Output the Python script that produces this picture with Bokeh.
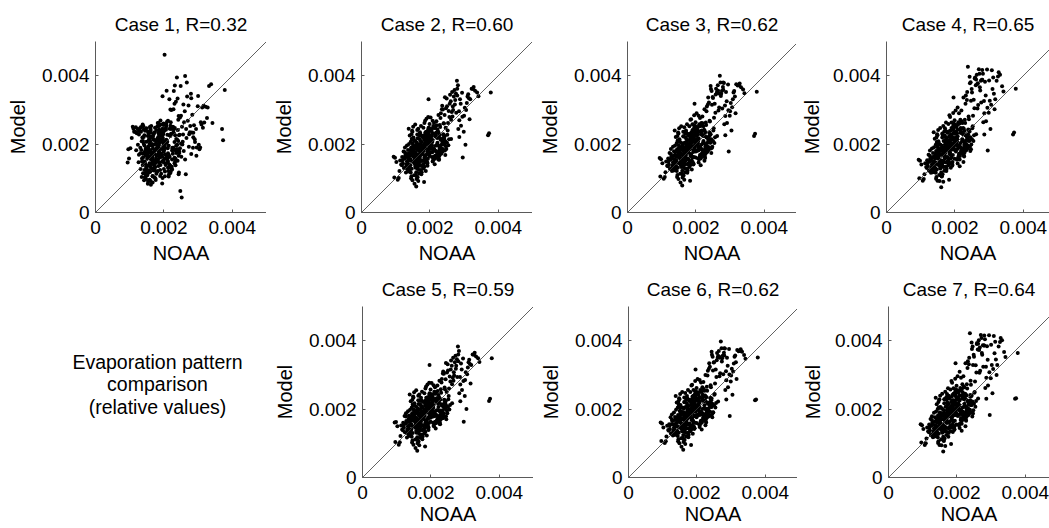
from bokeh.plotting import figure
from bokeh.models import Range1d, FixedTicker, Slope, Label
from bokeh.layouts import column, row
from bokeh.embed import file_html
from bokeh.resources import INLINE

# ---------------- data (values in units of 1e-5) ----------------
UNIT = 1e-5

noaa = [
    152, 168, 141, 175, 189, 133, 160, 147, 171, 158,
    163, 138, 182, 155, 129, 176, 144, 167, 193, 150,
    172, 157, 136, 185, 162, 148, 170, 121, 178, 154,
    166, 143, 198, 159, 174, 131, 187, 151, 164, 139,
    180, 156, 146, 169, 116, 191, 153, 162, 135, 177,
    149, 173, 160, 127, 184, 145, 168, 203, 158, 140,
    165, 134, 179, 152, 196, 161, 142, 171, 111, 188,
    157, 170, 148, 183, 137, 163, 206, 154, 175, 145,
    126, 167, 159, 190, 150, 174, 139, 181, 164, 213,
    155, 143, 176, 161, 199, 132, 169, 152, 186, 147,
    172, 119, 158, 194, 166, 141, 179, 208, 153, 162,
    136, 185, 149, 171, 160, 124, 177, 144, 195, 168,
    156, 182, 138, 164, 219, 151, 173, 130, 189, 158,
    146, 167, 201, 153, 175, 106, 163, 187, 142, 170,
    159, 224, 135, 178, 150, 166, 197, 128, 181, 155,
    143, 172, 161, 211, 148, 184, 98, 165, 139, 176,
    231, 154, 168, 192, 133, 160, 215, 145, 179, 118,
    163, 205, 150, 237, 171, 141, 188, 228, 157, 102,
    174, 218, 127, 243, 162, 199, 113, 181, 234, 147,
    94, 221, 166, 248, 138, 203, 252, 123, 186, 227,
    239, 109, 193, 256, 156, 214, 131, 245, 176, 207,
    233, 161, 96, 241, 183, 120, 226, 149, 254, 195,
    212, 225, 238, 246, 222, 258, 231, 264, 217, 249,
    236, 262, 270, 229, 255, 243, 276, 219, 267, 251,
    282, 240, 273, 259, 288, 232, 266, 294, 247, 279,
    261, 285, 300, 253, 272, 308, 244, 291, 268, 312,
    277, 296, 318, 257, 283, 304, 326, 274, 299, 265,
    290, 316, 280, 332, 302, 286, 322, 310, 338, 295,
    228, 242, 196, 208, 184, 235, 202, 250, 190, 216,
    342, 370, 373, 378, 314, 328, 306, 280, 286, 262,
    198, 186, 211, 203, 229, 192, 218, 207, 236, 189,
    221, 195, 244, 208, 183, 226, 200, 239, 214, 191,
    187, 232, 205, 216, 196, 247, 209, 224, 185, 201,
    213, 199, 228, 190, 219, 206, 242, 193, 231, 210,
    204, 223, 188, 238, 197, 215, 202, 227, 194, 250,
    182, 209, 233, 200, 220, 187, 245, 212, 198, 225,
    216, 191, 205, 236, 184, 222, 199, 230, 210, 240,
    195, 218, 201, 226, 208, 189, 234, 197, 214, 203,
    228, 186, 212, 194, 243, 206, 220, 183, 237, 199,
    207, 231, 192, 217, 185, 239, 203, 224, 196, 212,
]

model_case1 = [
    178, 152, 201, 133, 164, 236, 119, 187, 212, 144,
    196, 172, 121, 162, 240, 185, 149, 107, 227, 170,
    140, 215, 158, 197, 131, 98, 176, 232, 113, 189,
    165, 124, 205, 183, 248, 189, 146, 137, 220, 209,
    191, 117, 166, 141, 236, 172, 224, 156, 104, 203,
    207, 125, 181, 169, 233, 143, 198, 158, 96, 252,
    128, 183, 167, 110, 213, 240, 175, 150, 245, 186,
    163, 229, 134, 154, 219, 172, 247, 193, 100, 180,
    147, 106, 250, 139, 126, 182, 161, 216, 143, 195,
    231, 196, 154, 92, 178, 127, 214, 168, 243, 115,
    199, 182, 138, 230, 159, 221, 118, 166, 84, 234,
    150, 173, 246, 129, 208, 198, 160, 103, 149, 187,
    122, 262, 139, 176, 224, 157, 235, 246, 107, 201,
    174, 88, 190, 237, 145, 218, 164, 226, 94, 123,
    135, 181, 208, 241, 108, 152, 228, 238, 199, 174,
    226, 102, 244, 152, 185, 136, 158, 200, 115, 211,
    206, 91, 222, 113, 250, 141, 167, 239, 148, 249,
    253, 209, 118, 185, 131, 243, 161, 232, 179, 188,
    171, 137, 228, 112, 81, 194, 236, 252, 157, 111,
    146, 244, 196, 63, 257, 120, 44, 244, 166, 188,
    213, 251, 237, 228, 212, 105, 173, 178, 95, 253,
    149, 223, 185, 241, 209, 233, 172, 130, 199, 85,
    268, 189, 395, 227, 300, 180, 318, 112, 245, 370,
    174, 399, 268, 355, 207, 282, 235, 301, 380, 163,
    234, 333, 192, 264, 255, 371, 218, 244, 278, 347,
    296, 189, 341, 251, 313, 264, 226, 206, 339, 307,
    253, 190, 263, 316, 286, 185, 276, 229, 311, 244,
    214, 312, 171, 370, 198, 233, 309, 257, 375, 166,
    302, 271, 340, 356, 262, 324, 461, 283, 269, 331,
    262, 244, 211, 358, 248, 307, 190, 334, 220, 155,
    152, 221, 188, 106, 243, 170, 137, 259, 196, 124,
    230, 163, 117, 205, 182, 251, 146, 198, 132, 214,
    176, 247, 139, 226, 101, 188, 265, 155, 212, 239,
    121, 197, 235, 168, 254, 143, 209, 186, 160, 227,
    244, 134, 203, 179, 218, 112, 191, 249, 164, 201,
    195, 158, 226, 127, 264, 211, 174, 148, 233, 187,
    140, 238, 169, 215, 192, 129, 256, 183, 207, 151,
    225, 115, 183, 249, 157, 206, 138, 229, 195, 170,
    189, 253, 131, 208, 166, 242, 119, 220, 178, 260,
    213, 144, 257, 162, 231, 185, 200, 126, 245, 173,
]

model_case2 = [
    163, 181, 139, 172, 205, 150, 171, 128, 190, 154,
    142, 160, 196, 175, 131, 188, 117, 199, 178, 166,
    210, 136, 151, 167, 186, 174, 157, 144, 221, 109,
    170, 182, 191, 147, 124, 162, 215, 195, 103, 133,
    183, 158, 106, 226, 140, 202, 177, 135, 170, 152,
    149, 196, 118, 176, 161, 189, 140, 226, 208, 125,
    159, 144, 170, 192, 184, 98, 166, 235, 121, 147,
    177, 154, 213, 199, 120, 228, 196, 145, 112, 171,
    158, 138, 162, 236, 175, 180, 200, 129, 217, 184,
    84, 156, 206, 188, 173, 137, 114, 219, 164, 186,
    175, 162, 190, 157, 245, 121, 138, 212, 166, 204,
    183, 226, 94, 148, 198, 130, 173, 207, 231, 189,
    143, 180, 171, 128, 221, 251, 201, 117, 156, 131,
    229, 167, 243, 185, 136, 96, 241, 188, 151, 215,
    110, 197, 126, 151, 180, 92, 206, 167, 248, 194,
    138, 228, 153, 181, 239, 134, 160, 183, 173, 118,
    213, 211, 124, 172, 196, 76, 228, 100, 193, 138,
    148, 238, 201, 205, 164, 225, 121, 183, 257, 148,
    253, 167, 190, 223, 106, 259, 152, 142, 198, 216,
    163, 218, 135, 186, 245, 195, 240, 178, 268, 154,
    229, 101, 137, 214, 155, 247, 140, 168, 225, 176,
    188, 195, 102, 260, 89, 153, 232, 236, 197, 279,
    262, 285, 301, 248, 243, 318, 276, 294, 230, 333,
    312, 271, 339, 256, 297, 285, 348, 267, 310, 227,
    372, 261, 316, 344, 331, 290, 281, 350, 305, 385,
    325, 296, 283, 262, 358, 320, 337, 254, 300, 346,
    292, 161, 331, 279, 244, 198, 361, 329, 236, 352,
    318, 273, 342, 356, 306, 221, 362, 339, 351, 280,
    226, 215, 331, 268, 262, 302, 278, 311, 274, 248,
    340, 226, 232, 351, 334, 367, 300, 362, 270, 215,
    176, 205, 158, 221, 194, 143, 233, 187, 210, 168,
    199, 226, 181, 149, 213, 171, 240, 202, 161, 218,
    231, 184, 207, 166, 248, 193, 152, 219, 196, 175,
    160, 238, 189, 211, 177, 224, 198, 145, 216, 253,
    212, 169, 229, 186, 201, 157, 244, 178, 222, 204,
    190, 247, 172, 215, 163, 235, 208, 182, 239, 155,
    223, 150, 196, 179, 217, 204, 165, 250, 188, 227,
    243, 180, 214, 159, 232, 198, 175, 225, 141, 209,
    167, 219, 185, 236, 200, 162, 255, 192, 178, 246,
    206, 173, 228, 195, 153, 218, 186, 237, 210, 164,
]

model_case3 = [
    160, 186, 136, 178, 210, 146, 168, 131, 194, 151,
    146, 155, 201, 170, 128, 192, 121, 204, 183, 161,
    215, 133, 148, 171, 182, 170, 162, 140, 226, 113,
    174, 178, 196, 144, 129, 158, 220, 191, 108, 130,
    188, 154, 110, 231, 137, 207, 172, 139, 166, 157,
    145, 201, 122, 171, 166, 185, 144, 231, 203, 128,
    163, 141, 175, 188, 190, 102, 162, 240, 118, 152,
    173, 158, 208, 204, 124, 223, 201, 141, 116, 167,
    154, 142, 158, 241, 171, 185, 196, 133, 222, 190,
    88, 152, 211, 184, 178, 134, 118, 214, 169, 182,
    179, 158, 186, 162, 249, 125, 143, 217, 162, 199,
    179, 231, 98, 153, 193, 127, 178, 203, 236, 185,
    147, 185, 167, 132, 227, 246, 206, 121, 161, 135,
    224, 171, 248, 181, 141, 99, 236, 193, 147, 220,
    114, 203, 123, 156, 176, 96, 211, 163, 252, 190,
    134, 233, 149, 187, 234, 139, 156, 187, 169, 123,
    219, 206, 128, 177, 192, 79, 234, 104, 198, 135,
    152, 243, 197, 211, 168, 221, 126, 189, 252, 144,
    258, 173, 186, 229, 110, 264, 149, 147, 204, 211,
    159, 224, 139, 192, 240, 200, 246, 174, 273, 159,
    235, 104, 142, 220, 151, 253, 137, 174, 230, 181,
    194, 191, 105, 266, 93, 149, 238, 231, 203, 284,
    276, 302, 322, 355, 252, 345, 296, 372, 240, 338,
    336, 353, 400, 263, 318, 370, 355, 281, 348, 240,
    379, 268, 341, 362, 352, 310, 298, 374, 315, 367,
    349, 313, 296, 277, 380, 331, 361, 262, 307, 355,
    304, 178, 375, 292, 258, 240, 372, 347, 283, 356,
    325, 290, 359, 366, 320, 226, 371, 351, 360, 299,
    233, 228, 318, 283, 271, 316, 290, 335, 258, 262,
    349, 224, 230, 353, 339, 377, 308, 380, 282, 224,
    180, 201, 162, 226, 199, 140, 238, 191, 215, 164,
    204, 222, 187, 146, 218, 175, 246, 206, 158, 223,
    235, 190, 203, 170, 254, 189, 156, 224, 192, 179,
    164, 234, 194, 207, 182, 228, 204, 142, 221, 258,
    216, 174, 225, 191, 197, 161, 250, 183, 218, 209,
    186, 252, 177, 211, 168, 231, 214, 186, 244, 151,
    228, 147, 200, 184, 213, 209, 161, 256, 192, 233,
    248, 185, 210, 163, 237, 194, 180, 230, 138, 213,
    171, 215, 189, 241, 205, 158, 261, 188, 183, 252,
    210, 177, 224, 199, 149, 223, 182, 242, 206, 168,
]

model_case4 = [
    158, 190, 132, 183, 218, 141, 170, 126, 199, 149,
    151, 150, 206, 168, 124, 197, 116, 209, 190, 158,
    221, 129, 143, 176, 187, 165, 166, 136, 233, 110,
    178, 172, 203, 141, 134, 152, 226, 187, 112, 125,
    194, 151, 104, 237, 133, 214, 169, 144, 161, 162,
    141, 206, 117, 166, 171, 180, 149, 237, 198, 121,
    167, 136, 181, 183, 197, 106, 158, 246, 112, 158,
    169, 162, 203, 211, 119, 219, 208, 137, 121, 162,
    149, 147, 153, 247, 166, 190, 191, 138, 227, 197,
    92, 147, 217, 181, 184, 128, 122, 208, 175, 177,
    184, 153, 181, 168, 253, 119, 149, 223, 158, 195,
    174, 238, 93, 158, 188, 122, 184, 198, 243, 180,
    142, 190, 162, 137, 234, 241, 212, 116, 167, 130,
    219, 176, 255, 176, 146, 93, 231, 199, 142, 225,
    109, 210, 118, 161, 171, 90, 218, 158, 259, 185,
    129, 239, 144, 194, 229, 145, 151, 181, 164, 128,
    226, 201, 133, 184, 187, 74, 242, 99, 204, 130,
    147, 250, 192, 219, 173, 216, 131, 196, 247, 140,
    263, 180, 181, 237, 105, 270, 144, 153, 212, 206,
    154, 231, 134, 199, 235, 207, 252, 169, 279, 164,
    243, 98, 148, 226, 146, 260, 132, 180, 237, 186,
    200, 186, 100, 273, 96, 144, 245, 226, 209, 291,
    290, 336, 426, 381, 262, 392, 318, 403, 247, 361,
    352, 389, 419, 271, 330, 397, 385, 298, 378, 246,
    406, 281, 366, 395, 382, 342, 304, 418, 327, 388,
    372, 326, 386, 283, 406, 416, 378, 267, 314, 395,
    322, 181, 331, 305, 264, 244, 398, 357, 292, 375,
    342, 302, 388, 403, 327, 228, 385, 361, 369, 306,
    238, 241, 336, 307, 284, 329, 298, 351, 263, 271,
    354, 228, 234, 362, 347, 410, 315, 417, 290, 229,
    184, 198, 166, 231, 204, 137, 243, 195, 220, 161,
    209, 218, 192, 143, 223, 179, 252, 210, 155, 228,
    239, 195, 199, 174, 260, 185, 160, 229, 188, 183,
    168, 230, 199, 203, 187, 232, 210, 139, 226, 264,
    220, 178, 221, 196, 193, 165, 256, 187, 214, 214,
    182, 257, 182, 207, 173, 227, 220, 190, 249, 148,
    233, 144, 204, 189, 209, 214, 157, 262, 196, 239,
    253, 190, 206, 167, 242, 190, 185, 235, 135, 217,
    175, 211, 193, 246, 210, 154, 267, 184, 188, 258,
    214, 181, 220, 203, 145, 228, 178, 247, 202, 172,
]

model_case5 = [
    165, 179, 139, 174, 203, 150, 171, 130, 190, 152,
    142, 162, 196, 173, 131, 188, 119, 199, 176, 166,
    208, 136, 153, 167, 186, 172, 157, 146, 221, 111,
    170, 180, 191, 149, 126, 162, 213, 195, 105, 133,
    185, 158, 108, 224, 140, 202, 175, 135, 172, 152,
    149, 194, 118, 178, 161, 187, 140, 228, 206, 125,
    161, 144, 170, 190, 184, 100, 166, 233, 121, 149,
    175, 154, 211, 199, 122, 226, 196, 147, 112, 169,
    158, 140, 162, 234, 177, 180, 198, 129, 215, 184,
    86, 156, 204, 188, 175, 137, 116, 217, 164, 188,
    177, 160, 190, 159, 243, 121, 140, 212, 168, 202,
    181, 226, 96, 148, 196, 132, 173, 205, 231, 187,
    145, 180, 169, 130, 221, 249, 203, 117, 158, 131,
    227, 169, 241, 185, 138, 96, 239, 190, 151, 213,
    112, 195, 126, 153, 178, 94, 206, 165, 246, 194,
    140, 226, 155, 181, 237, 134, 162, 181, 173, 120,
    211, 209, 126, 172, 194, 78, 226, 102, 191, 138,
    150, 236, 199, 207, 164, 223, 123, 183, 255, 150,
    251, 169, 188, 223, 108, 257, 152, 144, 196, 214,
    161, 216, 137, 188, 243, 195, 238, 180, 266, 156,
    227, 103, 139, 212, 157, 245, 140, 170, 223, 178,
    190, 193, 104, 258, 91, 153, 230, 234, 199, 277,
    264, 283, 303, 250, 241, 316, 278, 292, 232, 331,
    310, 273, 337, 258, 295, 287, 346, 269, 308, 229,
    370, 263, 318, 342, 333, 288, 283, 348, 307, 383,
    327, 294, 285, 260, 356, 322, 335, 256, 298, 344,
    294, 163, 329, 281, 246, 200, 359, 327, 238, 350,
    316, 275, 340, 354, 308, 223, 360, 337, 349, 282,
    228, 217, 329, 270, 260, 304, 276, 313, 272, 250,
    338, 224, 230, 349, 332, 365, 302, 360, 272, 217,
    178, 203, 160, 219, 196, 143, 231, 189, 208, 170,
    197, 228, 179, 151, 211, 173, 238, 204, 159, 216,
    233, 182, 209, 164, 246, 195, 150, 221, 194, 177,
    162, 236, 191, 209, 179, 222, 200, 147, 214, 251,
    210, 171, 227, 188, 199, 159, 242, 180, 220, 206,
    192, 245, 174, 213, 165, 233, 210, 180, 237, 157,
    221, 152, 194, 181, 215, 206, 163, 248, 190, 225,
    241, 182, 212, 161, 230, 200, 173, 227, 143, 207,
    169, 217, 187, 234, 202, 160, 253, 194, 176, 244,
    204, 175, 226, 197, 155, 216, 188, 235, 212, 162,
]

model_case6 = [
    162, 184, 136, 180, 208, 146, 170, 131, 192, 153,
    144, 157, 199, 170, 130, 190, 121, 206, 181, 163,
    213, 135, 148, 173, 180, 172, 160, 142, 224, 115,
    176, 176, 198, 144, 131, 156, 218, 193, 110, 128,
    186, 156, 112, 229, 139, 205, 174, 137, 168, 155,
    147, 199, 124, 169, 168, 183, 146, 229, 205, 130,
    165, 139, 177, 186, 192, 104, 160, 238, 120, 150,
    171, 160, 206, 202, 126, 221, 203, 143, 118, 165,
    156, 144, 156, 239, 173, 183, 198, 135, 220, 192,
    90, 150, 209, 186, 176, 136, 120, 212, 171, 180,
    181, 156, 188, 160, 247, 127, 141, 219, 160, 201,
    177, 229, 100, 155, 191, 129, 176, 205, 234, 187,
    149, 183, 169, 134, 225, 244, 208, 123, 159, 137,
    222, 173, 246, 183, 143, 101, 234, 191, 149, 218,
    116, 201, 125, 158, 174, 98, 209, 165, 250, 192,
    136, 231, 151, 185, 232, 141, 158, 185, 171, 125,
    217, 204, 130, 179, 190, 81, 232, 106, 196, 137,
    154, 241, 195, 213, 170, 219, 128, 187, 250, 146,
    256, 175, 184, 231, 112, 262, 151, 149, 202, 213,
    161, 222, 141, 190, 238, 202, 244, 176, 271, 161,
    233, 106, 144, 218, 153, 251, 139, 176, 228, 183,
    196, 189, 107, 264, 95, 151, 236, 229, 205, 282,
    278, 300, 324, 353, 254, 343, 298, 370, 242, 336,
    334, 355, 398, 265, 316, 368, 357, 279, 350, 242,
    377, 270, 339, 364, 350, 312, 296, 376, 313, 365,
    351, 311, 298, 275, 378, 333, 359, 264, 305, 357,
    302, 180, 373, 294, 256, 242, 370, 349, 281, 354,
    327, 288, 357, 368, 318, 228, 369, 353, 358, 301,
    235, 226, 316, 285, 269, 318, 288, 337, 256, 264,
    347, 226, 228, 351, 337, 375, 310, 378, 284, 222,
    182, 199, 164, 224, 201, 142, 236, 193, 213, 166,
    202, 224, 185, 148, 216, 177, 244, 208, 160, 221,
    237, 188, 205, 168, 252, 191, 154, 226, 190, 181,
    166, 232, 196, 205, 184, 226, 206, 144, 219, 256,
    214, 176, 223, 193, 195, 163, 248, 185, 216, 211,
    188, 250, 179, 209, 170, 229, 216, 184, 242, 153,
    226, 149, 202, 182, 211, 211, 159, 254, 194, 231,
    246, 187, 208, 165, 235, 196, 178, 232, 140, 211,
    173, 213, 191, 239, 207, 156, 259, 190, 181, 250,
    208, 179, 222, 201, 151, 221, 184, 240, 208, 166,
]

model_case7 = [
    160, 188, 134, 183, 216, 143, 170, 128, 197, 151,
    149, 152, 204, 170, 126, 195, 118, 207, 192, 156,
    219, 131, 145, 174, 189, 163, 168, 138, 231, 112,
    176, 174, 201, 143, 132, 154, 224, 189, 114, 127,
    192, 153, 106, 235, 135, 212, 171, 142, 163, 160,
    143, 204, 119, 168, 169, 182, 147, 235, 200, 123,
    165, 138, 179, 185, 195, 108, 160, 244, 114, 156,
    171, 160, 205, 209, 121, 217, 210, 139, 119, 164,
    151, 145, 155, 245, 168, 188, 193, 136, 229, 195,
    94, 149, 215, 183, 182, 130, 124, 206, 177, 175,
    182, 155, 183, 166, 251, 121, 147, 225, 156, 197,
    176, 236, 95, 160, 186, 124, 182, 200, 241, 182,
    144, 188, 164, 135, 236, 239, 214, 118, 165, 132,
    221, 174, 253, 178, 144, 95, 229, 201, 140, 227,
    111, 208, 120, 163, 169, 92, 216, 160, 257, 187,
    131, 237, 146, 192, 227, 147, 153, 179, 166, 130,
    224, 203, 135, 182, 189, 76, 240, 101, 202, 132,
    149, 248, 190, 221, 175, 214, 133, 194, 245, 142,
    261, 182, 179, 239, 107, 268, 146, 151, 214, 204,
    156, 229, 136, 197, 233, 209, 250, 171, 277, 166,
    241, 100, 150, 224, 148, 258, 134, 178, 239, 184,
    202, 184, 102, 271, 98, 146, 243, 228, 207, 289,
    292, 334, 422, 383, 264, 390, 320, 401, 249, 359,
    350, 391, 417, 273, 328, 395, 387, 296, 380, 248,
    404, 283, 364, 393, 384, 340, 306, 416, 329, 386,
    374, 324, 388, 281, 408, 414, 376, 269, 312, 397,
    324, 183, 329, 307, 262, 246, 396, 359, 290, 373,
    344, 300, 386, 401, 329, 230, 383, 363, 367, 308,
    240, 239, 334, 309, 282, 331, 296, 353, 261, 273,
    352, 230, 232, 364, 345, 408, 317, 415, 292, 231,
    186, 196, 168, 229, 206, 139, 241, 197, 218, 163,
    207, 220, 190, 145, 221, 181, 250, 212, 157, 226,
    241, 193, 201, 172, 258, 187, 158, 231, 186, 185,
    170, 228, 201, 201, 189, 230, 212, 141, 224, 262,
    218, 180, 219, 198, 191, 167, 254, 189, 212, 216,
    184, 255, 184, 205, 175, 225, 222, 188, 247, 150,
    231, 146, 206, 187, 207, 216, 155, 260, 198, 237,
    251, 192, 204, 169, 240, 192, 183, 237, 137, 215,
    177, 209, 195, 244, 212, 152, 265, 186, 190, 256,
    212, 183, 218, 205, 147, 226, 180, 245, 200, 174,
]

case_titles = ["Case 1, R=0.32", "Case 2, R=0.60", "Case 3, R=0.62", "Case 4, R=0.65",
               "Case 5, R=0.59", "Case 6, R=0.62", "Case 7, R=0.64"]
tick_values = [0.0, 0.002, 0.004]
tick_labels = ["0", "0.002", "0.004"]
x_title = "NOAA"
y_title = "Model"
note_lines = ["Evaporation pattern", "comparison", "(relative values)"]

# ---------------- styling ----------------
FONT = "Liberation Sans"
AX_MAX = 0.005
FRAME = 171          # px spanned by 0..0.005
AXIS_GRAY = "#5a5a5a"


def make_panel(title, ys, geom, height, top_b, bottom_b, xlab_standoff):
    width, left, frame_w, ylab_standoff = geom
    x_end = AX_MAX * frame_w / FRAME
    p = figure(width=width, height=height,
               x_range=Range1d(0, x_end), y_range=Range1d(0, AX_MAX),
               output_backend="svg", toolbar_location=None,
               min_border_left=left, min_border_right=0,
               min_border_top=top_b, min_border_bottom=bottom_b,
               title=title)
    p.title.text_font = FONT
    p.title.text_font_size = "19px"
    p.title.text_font_style = "normal"
    p.title.text_color = "black"
    p.title.align = "center"
    p.title.standoff = 14
    p.xgrid.visible = False
    p.ygrid.visible = False
    p.outline_line_color = None
    p.background_fill_color = "white"
    p.border_fill_color = "white"
    overrides = {float(v): s for v, s in zip(tick_values, tick_labels)}
    for ax in (p.xaxis[0], p.yaxis[0]):
        ax.ticker = FixedTicker(ticks=tick_values)
        ax.major_label_overrides = overrides
        ax.major_label_text_font = FONT
        ax.major_label_text_font_size = "19px"
        ax.major_label_text_color = "black"
        ax.axis_line_color = AXIS_GRAY
        ax.major_tick_line_color = AXIS_GRAY
        ax.major_tick_in = 3
        ax.major_tick_out = 0
        ax.minor_tick_in = 0
        ax.minor_tick_out = 0
        ax.axis_label_text_font = FONT
        ax.axis_label_text_font_size = "20px"
        ax.axis_label_text_font_style = "normal"
        ax.axis_label_text_color = "black"
    p.xaxis.major_label_standoff = 8
    p.xaxis.axis_label = x_title
    p.xaxis.axis_label_standoff = xlab_standoff
    p.yaxis.major_label_standoff = 6
    p.yaxis.axis_label = y_title
    p.yaxis.axis_label_standoff = ylab_standoff

    p.add_layout(Slope(gradient=1, y_intercept=0, line_color="#3a3a3a", line_width=0.8))
    xs = [v * UNIT for v in noaa]
    yv = [v * UNIT for v in ys]
    p.scatter(xs, yv, size=4, fill_color="black", line_color=None)
    return p


cases = [model_case1, model_case2, model_case3, model_case4,
         model_case5, model_case6, model_case7]

# (figure width, left border, frame width, y-label standoff)
top_geom = [(266, 95, 171, 10), (266, 95, 171, 10), (264, 95, 169, 10), (253, 90, 163, 7)]
bot_geom = [(267, 96, 171, 10), (264, 95, 169, 10), (252, 91, 161, 8)]

TOP_H, BOT_H = 266, 262
top = [make_panel(case_titles[i], cases[i], top_geom[i], TOP_H, 41, 54, 5) for i in range(4)]

note = figure(width=266, height=BOT_H, x_range=Range1d(0, 266), y_range=Range1d(BOT_H - 51, 40),
              output_backend="svg", toolbar_location=None,
              x_axis_location=None, y_axis_location=None,
              min_border_left=0, min_border_right=0, min_border_top=40, min_border_bottom=51)
note.xgrid.visible = False
note.ygrid.visible = False
note.outline_line_color = None
for line, yy in zip(note_lines, [95.7, 117.5, 140.5]):
    note.add_layout(Label(x=157, y=yy, text=line, text_align="center", text_baseline="middle",
                          text_font=FONT, text_font_size="19.5px", text_color="black"))

bottom = [note] + [make_panel(case_titles[4 + i], cases[4 + i], bot_geom[i], BOT_H, 40, 51, 1)
                   for i in range(3)]

layout = column(row(*top), row(*bottom))

open("out.html", "w").write(file_html(layout, INLINE))
